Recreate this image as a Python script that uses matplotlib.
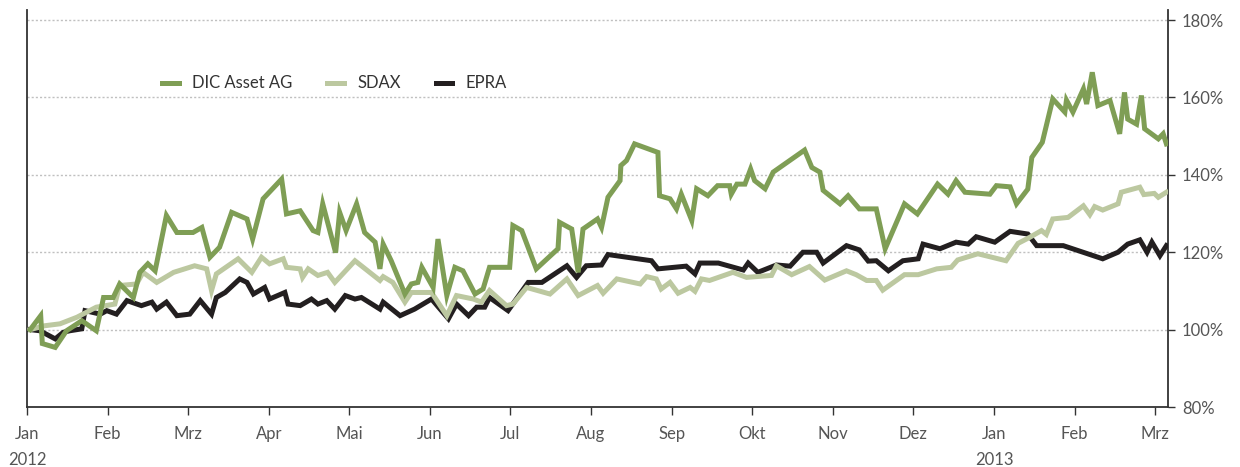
import matplotlib
matplotlib.use('Agg')
import matplotlib.pyplot as plt

plt.rcParams['font.family'] = ['Lato', 'DejaVu Sans']

# time in months since 1 Jan 2012, values in % of start
dic_t = [0.04, 0.17, 0.19, 0.35, 0.49, 0.68, 0.86, 0.95, 1.07, 1.15, 1.32, 1.40, 1.50, 1.59, 1.73,
         1.86, 2.06, 2.17, 2.27, 2.39, 2.54, 2.73, 2.80, 2.93, 3.16, 3.22, 3.39, 3.55, 3.61, 3.67,
         3.83, 3.88, 3.96, 4.09, 4.19, 4.32, 4.38, 4.42, 4.52, 4.69, 4.77, 4.85, 4.90, 5.04, 5.10,
         5.21, 5.31, 5.41, 5.56, 5.66, 5.74, 5.99, 6.03, 6.14, 6.32, 6.59, 6.61, 6.76, 6.84, 6.90,
         7.08, 7.13, 7.21, 7.36, 7.37, 7.44, 7.54, 7.83, 7.85, 7.98, 8.06, 8.12, 8.25, 8.31, 8.45,
         8.57, 8.72, 8.74, 8.81, 8.91, 8.98, 9.03, 9.16, 9.26, 9.65, 9.74, 9.84, 9.88, 10.09, 10.19,
         10.33, 10.54, 10.65, 10.89, 11.05, 11.30, 11.43, 11.53, 11.64, 11.95, 12.03, 12.20, 12.28,
         12.42, 12.47, 12.60, 12.73, 12.88, 12.90, 12.98, 13.11, 13.15, 13.22, 13.29, 13.44, 13.56,
         13.62, 13.66, 13.77, 13.83, 13.87, 14.04, 14.10, 14.14]
dic_v = [100, 103.6, 96.4, 95.4, 99.7, 102.3, 99.7, 108.3, 108.3, 111.8, 108.3, 114.8, 117, 115.2, 129.5,
         125.1, 125.1, 126.4, 118.7, 121.3, 130.3, 128.6, 123.4, 133.8, 138.9, 129.9, 130.7, 125.6, 125.1, 132.5,
         119.9, 130.3, 125.6, 132.5, 125.1, 122.6, 115.7, 122.1, 117.8, 109.2, 111.8, 112.2, 116.1, 110.9, 123.4,
         108.8, 116.1, 115.2, 109.2, 110.5, 116.1, 116.1, 126.9, 125.6, 115.7, 120.9, 127.7, 126.0, 114.8, 126,
         128.6, 126.4, 134.2, 138.5, 142.4, 143.7, 148, 145.8, 134.6, 133.8, 131.2, 135, 128.2, 136.4, 134.6,
         137.2, 137.2, 135, 137.6, 137.6, 141.5, 138.5, 136.4, 140.7, 146.4, 141.9, 140.7, 136, 132.5, 134.6,
         131.2, 131.2, 120.9, 132.5, 129.9, 137.6, 135, 138.5, 135.5, 135, 137.2, 136.9, 132.5,
         136.3, 144.5, 148.4, 159.6, 156.2, 159.3, 156.2, 162.2, 158.3, 166.5, 157.9, 159.2, 150.6,
         161.3, 154.4, 153.1, 160.5, 151.9, 149.3, 150.6, 148]

sdax_t = [0.04, 0.22, 0.41, 0.62, 0.86, 1.09, 1.15, 1.36, 1.44, 1.61, 1.82, 2.08, 2.23, 2.29, 2.35,
          2.62, 2.79, 2.91, 3.01, 3.18, 3.22, 3.39, 3.42, 3.49, 3.61, 3.73, 3.82, 4.07, 4.38, 4.42,
          4.54, 4.69, 4.77, 5.02, 5.21, 5.33, 5.54, 5.64, 5.74, 5.95, 6.03, 6.20, 6.49, 6.70, 6.84,
          7.08, 7.15, 7.32, 7.61, 7.69, 7.81, 7.87, 7.98, 8.08, 8.23, 8.29, 8.37, 8.47, 8.76, 8.93,
          9.24, 9.30, 9.49, 9.71, 9.90, 10.17, 10.29, 10.42, 10.54, 10.62, 10.89, 11.06, 11.29, 11.47,
          11.55, 11.80, 12.15, 12.30, 12.44, 12.59, 12.65, 12.73, 12.92, 13.11, 13.19, 13.25, 13.35,
          13.54, 13.58, 13.81, 13.86, 13.99, 14.04, 14.14]
sdax_v = [100, 101, 101.5, 103.2, 105.8, 106.6, 111.4, 111.8, 114.8, 112.2, 114.8, 116.5, 115.7, 110.1, 114.4,
          118.3, 114.8, 118.7, 117, 118.3, 116.1, 115.7, 113.5, 115.7, 114, 114.8, 112.2, 117.8, 112.7, 113.7,
          112.2, 107.1, 109.6, 109.6, 103.6, 108.8, 107.9, 107.1, 110.1, 106.2, 106.6, 110.9, 109.2, 113.1, 108.8,
          111.4, 109.4, 113.1, 111.8, 113.7, 113.1, 110.5, 112.2, 109.4, 110.9, 109.9, 113.1, 112.7, 114.8, 113.5,
          114, 116.5, 114.2, 116.3, 112.8, 115.2, 114.2, 112.7, 112.7, 110.2, 114.2, 114.2, 115.7, 116.1,
          118, 119.6, 117.8, 122.3, 123.8, 125.6, 124.6, 128.6, 129, 132, 129.7, 131.8, 130.9,
          132.5, 135.5, 136.8, 134.9, 135.2, 134.2, 135.5]

epra_t = [0.04, 0.16, 0.35, 0.45, 0.53, 0.68, 0.72, 0.91, 0.99, 1.11, 1.24, 1.42, 1.55, 1.61, 1.73,
          1.86, 2.02, 2.15, 2.29, 2.35, 2.46, 2.64, 2.73, 2.81, 2.95, 3.01, 3.20, 3.24, 3.39, 3.53,
          3.61, 3.72, 3.82, 3.95, 4.07, 4.15, 4.38, 4.42, 4.63, 4.81, 5.02, 5.23, 5.33, 5.48, 5.58,
          5.68, 5.74, 5.97, 6.22, 6.39, 6.70, 6.82, 6.94, 7.13, 7.21, 7.75, 7.83, 8.18, 8.29, 8.35,
          8.58, 8.89, 8.95, 9.07, 9.30, 9.47, 9.63, 9.80, 9.88, 10.17, 10.33, 10.44, 10.54, 10.69,
          10.87, 11.06, 11.12, 11.33, 11.53, 11.68, 11.78, 12.01, 12.20, 12.42, 12.53, 12.86, 13.35,
          13.54, 13.66, 13.81, 13.90, 13.96, 14.06, 14.14]
epra_v = [100, 99.7, 97.6, 99.3, 99.7, 100.2, 104.9, 104, 104.9, 104, 107.5, 106.2, 107.1, 105.3, 107.1,
          103.6, 104, 107.5, 104, 108.3, 109.6, 113.1, 112.2, 109.2, 110.9, 107.9, 109.6, 106.6, 106.2, 107.9,
          106.6, 107.5, 105.3, 108.8, 107.9, 108.3, 105.3, 107.1, 103.6, 105.3, 107.9, 102.8, 106.6, 103.6, 105.8,
          105.8, 108.3, 104.9, 112.2, 112.2, 116.5, 113.5, 116.5, 116.7, 119.4, 117.8, 115.7, 116.4, 114.4, 117.2,
          117.2, 115.4, 117.2, 114.8, 116.7, 116.4, 120, 120, 117.2, 121.7, 120.6, 117.7, 117.8, 115.2,
          117.8, 118.3, 122.1, 120.9, 122.6, 122.1, 124, 122.6, 125.4, 124.7, 121.7, 121.7, 118.3,
          120, 122.1, 123.2, 120, 122.6, 119.1, 121.7]

month_labels = ['Jan\n2012', 'Feb', 'Mrz', 'Apr', 'Mai', 'Jun', 'Jul', 'Aug', 'Sep', 'Okt',
                'Nov', 'Dez', 'Jan\n2013', 'Feb', 'Mrz']
y_ticks = [80, 100, 120, 140, 160, 180]

fig = plt.figure(figsize=(12.4, 4.67), dpi=100)
ax = fig.add_axes([27 / 1240, 60 / 467, 1141 / 1240, 397 / 467])

lw = 3.6
ax.plot(epra_t, epra_v, color='#231f20', lw=lw, label='EPRA', zorder=3, solid_joinstyle='miter')
ax.plot(sdax_t, sdax_v, color='#bcc8a0', lw=lw, label='SDAX', zorder=4, solid_joinstyle='miter')
ax.plot(dic_t, dic_v, color='#7f9e55', lw=lw, label='DIC Asset AG', zorder=5, solid_joinstyle='miter')

ax.set_xlim(0, 14.16)
ax.set_ylim(80, 182.6)

for y in y_ticks[1:]:
    ax.axhline(y, color='#c0c0c0', lw=1, ls=(0, (1.5, 1.5)), zorder=1)

ax.yaxis.tick_right()
ax.set_yticks(y_ticks)
ax.set_yticklabels([f'{v}%' for v in y_ticks])
ax.set_xticks(range(len(month_labels)))
ax.set_xticklabels(month_labels, linespacing=1.7, va='top')

ax.tick_params(axis='x', direction='out', length=6, width=1, color='#333333',
               labelsize=12, labelcolor='#555555', pad=8)
ax.tick_params(axis='y', direction='out', length=5, width=1, color='#333333',
               labelsize=12, labelcolor='#555555', pad=5)

ax.spines['top'].set_visible(False)
for s in ['left', 'right', 'bottom']:
    ax.spines[s].set_color('#333333')
    ax.spines[s].set_linewidth(1.3)

handles, labels = ax.get_legend_handles_labels()
leg = ax.legend(handles[::-1], labels[::-1], ncol=3, frameon=False, loc='center left',
                bbox_to_anchor=(0.108, 0.815), handlelength=1.0, handletextpad=0.8,
                columnspacing=2.1, fontsize=12, borderpad=0.2)
for t in leg.get_texts():
    t.set_color('#333333')

fig.savefig('out.png', dpi=100)
